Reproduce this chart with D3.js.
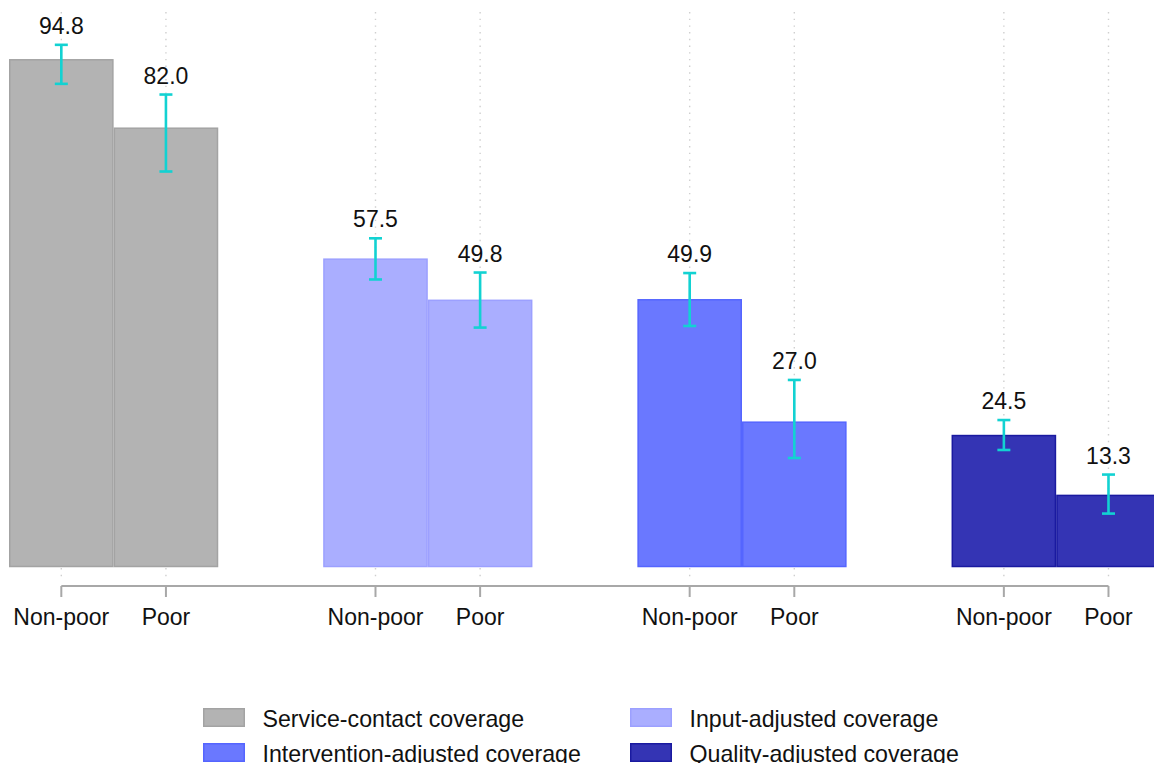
<!DOCTYPE html>
<html>
<head>
<meta charset="utf-8">
<script src="https://cdn.jsdelivr.net/npm/d3@7"></script>
<style>
  html, body { margin: 0; padding: 0; background: #fff; overflow: hidden; }
  svg { display: block; font-family: "Liberation Sans", Arial, sans-serif; }
</style>
</head>
<body>
<svg id="chart" width="1154" height="763"></svg>
<script>
// Coverage measures (groups) and population subgroups
const measures = ["Service-contact coverage", "Input-adjusted coverage",
                  "Intervention-adjusted coverage", "Quality-adjusted coverage"];
const subgroups = ["Non-poor", "Poor"];

// Point estimates (%)
const nonPoorValues = [94.8, 57.5, 49.9, 24.5];
const poorValues    = [82.0, 49.8, 27.0, 13.3];

// 95% confidence intervals
const nonPoorLow  = [90.3, 53.7, 45.0, 21.8];
const nonPoorHigh = [97.6, 61.4, 54.9, 27.4];
const poorLow     = [73.9, 44.7, 20.3,  9.9];
const poorHigh    = [88.3, 55.0, 34.9, 17.2];

const fills   = ["#b3b3b3", "#aaaeff", "#6a78ff", "#3434b4"];
const strokes = ["#a3a3a3", "#9ca0ff", "#5565ff", "#1a1aa0"];
const ciColor = "#12d2d2";

const rows = [];
measures.forEach((m, i) => {
  rows.push({ measure: m, sub: "Non-poor", value: nonPoorValues[i], lo: nonPoorLow[i], hi: nonPoorHigh[i], gi: i });
  rows.push({ measure: m, sub: "Poor",     value: poorValues[i],    lo: poorLow[i],    hi: poorHigh[i],    gi: i });
});

const svg = d3.select("#chart");

const x0 = d3.scaleBand().domain(measures).range([9, 1160.8]).paddingInner(0.334).paddingOuter(0);
const x1 = d3.scaleBand().domain(subgroups).range([0, x0.bandwidth()]).padding(0);
const y  = d3.scaleLinear().domain([0, 100]).range([566.5, 32]);

const cx = d => x0(d.measure) + x1(d.sub) + x1.bandwidth() / 2;

// Vertical dotted grid at each bar position
svg.append("g").selectAll("line").data(rows).join("line")
  .attr("x1", cx).attr("x2", cx)
  .attr("y1", 12).attr("y2", 578)
  .attr("stroke", "#cfcfcf").attr("stroke-width", 1.4)
  .attr("stroke-dasharray", "1.4 5.3");

// Bars
svg.append("g").selectAll("rect").data(rows).join("rect")
  .attr("x", d => x0(d.measure) + x1(d.sub) + 0.75)
  .attr("width", x1.bandwidth() - 1.5)
  .attr("y", d => y(d.value))
  .attr("height", d => y(0) - y(d.value))
  .attr("fill", d => fills[d.gi])
  .attr("stroke", d => strokes[d.gi])
  .attr("stroke-width", 1.5);

// Confidence interval whiskers
const ci = svg.append("g").attr("stroke", ciColor).attr("stroke-width", 2.6).attr("fill", "none");
ci.selectAll("line.v").data(rows).join("line").attr("class", "v")
  .attr("x1", cx).attr("x2", cx)
  .attr("y1", d => y(d.hi)).attr("y2", d => y(d.lo));
ci.selectAll("line.t").data(rows).join("line").attr("class", "t")
  .attr("x1", d => cx(d) - 6.5).attr("x2", d => cx(d) + 6.5)
  .attr("y1", d => y(d.hi)).attr("y2", d => y(d.hi));
ci.selectAll("line.b").data(rows).join("line").attr("class", "b")
  .attr("x1", d => cx(d) - 6.5).attr("x2", d => cx(d) + 6.5)
  .attr("y1", d => y(d.lo)).attr("y2", d => y(d.lo));

// Value labels above the whiskers
svg.append("g").selectAll("text").data(rows).join("text")
  .attr("x", cx)
  .attr("y", d => y(d.hi) - 11)
  .attr("text-anchor", "middle")
  .attr("font-size", 23)
  .attr("fill", "#111")
  .text(d => d.value.toFixed(1));

// Bottom axis
const axisG = svg.append("g").attr("stroke", "#a8a8a8").attr("stroke-width", 2);
const xs = rows.map(cx);
axisG.append("line")
  .attr("x1", d3.min(xs)).attr("x2", d3.max(xs))
  .attr("y1", 586).attr("y2", 586);
axisG.selectAll("line.tick").data(rows).join("line").attr("class", "tick")
  .attr("x1", cx).attr("x2", cx)
  .attr("y1", 586).attr("y2", 597);

svg.append("g").selectAll("text").data(rows).join("text")
  .attr("x", cx)
  .attr("y", 625)
  .attr("text-anchor", "middle")
  .attr("font-size", 23)
  .attr("fill", "#111")
  .text(d => d.sub);

// Legend (two columns, two rows)
const legendPos = [
  { sx: 203, ty: 708 }, { sx: 630, ty: 708 },
  { sx: 203, ty: 743 }, { sx: 630, ty: 743 }
];
const legend = svg.append("g").selectAll("g").data(measures).join("g")
  .attr("transform", (d, i) => `translate(${legendPos[i].sx},${legendPos[i].ty})`);
legend.append("rect")
  .attr("x", 0.75).attr("y", 0.75)
  .attr("width", 40.5).attr("height", 17.5)
  .attr("fill", (d, i) => fills[i])
  .attr("stroke", (d, i) => strokes[i])
  .attr("stroke-width", 1.5);
legend.append("text")
  .attr("x", 59.5).attr("y", 18.5)
  .attr("font-size", 23.2)
  .attr("fill", "#111")
  .text(d => d);
</script>
</body>
</html>
